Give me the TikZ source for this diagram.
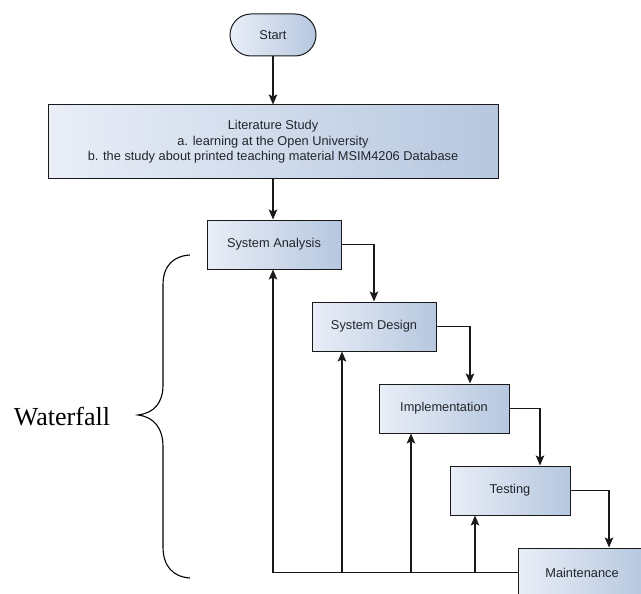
\documentclass[tikz,border=0pt]{standalone}
\usepackage{fontspec}
\setmainfont{Liberation Serif}
\newfontfamily\boxfont{Liberation Sans}
\usepackage{xcolor}
\usetikzlibrary{arrows.meta,positioning}

\definecolor{boxleft}{HTML}{E9EEF7}
\definecolor{boxright}{HTML}{B6C7DF}
\definecolor{boxtext}{HTML}{22252B}

\begin{document}
\begin{tikzpicture}[
    x=1pt, y=1pt,
    phase/.style={rectangle, minimum height=49pt, text centered, draw=black!90, line width=1pt, left color=boxleft, right color=boxright, font=\boxfont\fontsize{12.8}{15.5}\selectfont, text=boxtext},
    startstop/.style={phase, rounded corners=21pt, minimum width=86pt, minimum height=42pt},
    arrow/.style={line width=1.1pt, draw=black!90, -{Stealth[length=10pt,width=8.5pt,inset=2pt]}},
    line/.style={line width=1.1pt, draw=black!90}
]
\useasboundingbox (0,0) rectangle (641,-594);

\node (start) [startstop] at (273,-35) {Start};
\node (lit) [phase, minimum width=450pt, minimum height=74pt, align=center] at (273,-142)
    {Literature Study\\a. learning at the Open University\\b. the study about printed teaching material MSIM4206 Database};
\node (sa) [phase, minimum width=134pt] at (274,-244.5) {System Analysis};
\node (sd) [phase, minimum width=124pt] at (374,-326.5) {System Design};
\node (impl) [phase, minimum width=130pt] at (444,-408.5) {Implementation};
\node (test) [phase, minimum width=120pt] at (510,-490.5) {Testing};
\node (maint) [phase, minimum width=128pt] at (582,-572.5) {Maintenance};

% downward flow
\draw [arrow] (start) -- (lit);
\draw [arrow] (lit.south) -- (lit.south |- sa.north);
\draw [arrow] (sa.east) -| (sd.north);
\draw [arrow] (sd.east) -| ([xshift=26pt]impl.north);
\draw [arrow] (impl.east) -| ([xshift=30pt]test.north);
\draw [arrow] (test.east) -| ([xshift=27pt]maint.north);

% feedback
\draw [arrow] (maint.west) -| ([xshift=-1pt]sa.south);
\draw [arrow] ([xshift=-32pt]sd.south |- maint.west) -- ([xshift=-32pt]sd.south);
\draw [arrow] ([xshift=-33pt]impl.south |- maint.west) -- ([xshift=-33pt]impl.south);
\draw [arrow] ([xshift=-35pt]test.south |- maint.west) -- ([xshift=-35pt]test.south);

% brace
\draw [line width=1.1pt] (190,-255) .. controls (173,-256) and (163,-266) .. (163,-285) -- (163,-385)
    .. controls (163,-403) and (154,-413) .. (138,-415)
    .. controls (154,-417) and (163,-428) .. (163,-447) -- (163,-547)
    .. controls (163,-566) and (173,-577) .. (190,-578);
\node (wf) [font=\fontsize{26}{30}\selectfont] at (62,-417) {Waterfall};

\end{tikzpicture}
\end{document}
